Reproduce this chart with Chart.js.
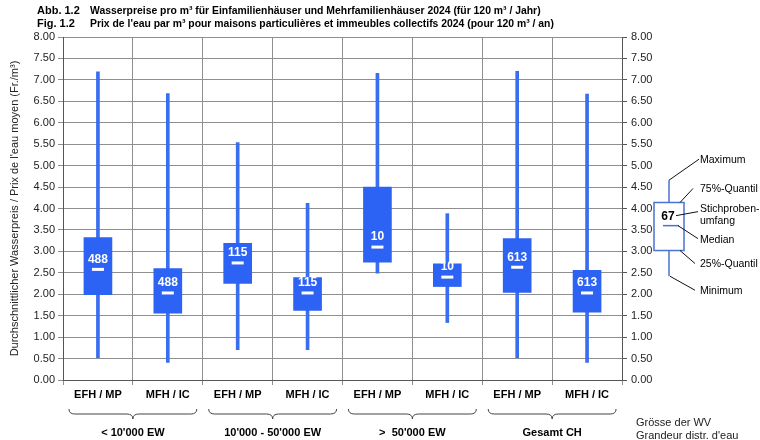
<!DOCTYPE html>
<html>
<head>
<meta charset="utf-8">
<script src="https://cdn.jsdelivr.net/npm/chart.js@4"></script>
<style>
  html, body { margin: 0; padding: 0; background: #fff; }
  canvas { display: block; }
</style>
</head>
<body>
<canvas id="chart" width="760" height="440"></canvas>
<script>
// categories and groups
const categories = ['EFH / MP', 'MFH / IC', 'EFH / MP', 'MFH / IC', 'EFH / MP', 'MFH / IC', 'EFH / MP', 'MFH / IC'];
const groups = ['< 10\'000 EW', '10\'000 - 50\'000 EW', '>  50\'000 EW', 'Gesamt CH'];

// box plot values (Fr./m³)
const minimum  = [0.52, 0.41, 0.71, 0.71, 2.49, 1.34, 0.52, 0.41];
const quartil1 = [1.99, 1.56, 2.25, 1.62, 2.75, 2.18, 2.04, 1.58];
const median   = [2.58, 2.03, 2.73, 2.03, 3.10, 2.40, 2.63, 2.03];
const quartil3 = [3.32, 2.60, 3.19, 2.39, 4.50, 2.71, 3.30, 2.56];
const maximum  = [7.19, 6.68, 5.54, 4.12, 7.15, 3.88, 7.20, 6.67];
const counts   = [488, 488, 115, 115, 10, 10, 613, 613];

// explanation box (drawn on the right axis)
const legendValues = { min: 2.42, q1: 3.02, median: 3.60, q3: 4.14, max: 4.66, n: 67 };
const legendLabels = ['Maximum', '75%-Quantil', ['Stichproben-', 'umfang'], 'Median', '25%-Quantil', 'Minimum'];

const yTicks = { min: 0, max: 8, step: 0.5 };

const FONT = '"Liberation Sans", Arial, sans-serif';
const NARROW = '"Liberation Sans Narrow", "Liberation Sans", Arial, sans-serif';
const BLUE = '#2d63f5';
const GRID = '#8f8f8f';

const overlay = {
  id: 'overlay',
  afterDatasetsDraw(chart) {
    const ctx = chart.ctx;
    const x = chart.scales.x, y = chart.scales.y;
    ctx.save();
    // medians and sample sizes
    categories.forEach((_, i) => {
      const cx = x.getPixelForValue(i);
      const my = y.getPixelForValue(median[i]);
      ctx.fillStyle = '#fff';
      ctx.fillRect(cx - 6, my - 1.5, 12, 3);
      ctx.font = 'bold 12px ' + FONT;
      ctx.textAlign = 'center';
      ctx.textBaseline = 'middle';
      ctx.fillText(String(counts[i]), cx, my - 10);
    });
    ctx.restore();
  },
  afterDraw(chart) {
    const ctx = chart.ctx;
    const x = chart.scales.x, y = chart.scales.y;
    const area = chart.chartArea;
    ctx.save();

    // title
    ctx.fillStyle = '#000';
    ctx.textAlign = 'left';
    ctx.textBaseline = 'alphabetic';
    ctx.font = 'bold 11px ' + FONT;
    ctx.fillText('Abb. 1.2', 37, 14);
    ctx.fillText('Fig. 1.2', 37, 27);
    ctx.font = 'bold 10.4px ' + FONT;
    ctx.fillText('Wasserpreise pro m³ für Einfamilienhäuser und Mehrfamilienhäuser 2024 (für 120 m³ / Jahr)', 90, 14);
    ctx.fillText('Prix de l\'eau par m³ pour maisons particulières et immeubles collectifs 2024 (pour 120 m³ / an)', 90, 27);

    // braces and group labels
    ctx.strokeStyle = '#444';
    ctx.lineWidth = 1;
    groups.forEach((g, k) => {
      const left = x.getPixelForValue(2 * k) - 29;
      const right = x.getPixelForValue(2 * k + 1) + 29;
      const mid = (left + right) / 2;
      const top = 409, base = 414, tip = 419;
      ctx.beginPath();
      ctx.moveTo(left, top);
      ctx.quadraticCurveTo(left, base, left + 6, base);
      ctx.lineTo(mid - 6, base);
      ctx.quadraticCurveTo(mid, base, mid, tip);
      ctx.quadraticCurveTo(mid, base, mid + 6, base);
      ctx.lineTo(right - 6, base);
      ctx.quadraticCurveTo(right, base, right, top);
      ctx.stroke();
      ctx.fillStyle = '#000';
      ctx.font = 'bold 11px ' + NARROW;
      ctx.textAlign = 'center';
      ctx.textBaseline = 'middle';
      ctx.fillText(g, mid, 433);
    });
    ctx.font = '11px ' + FONT;
    ctx.textAlign = 'left';
    ctx.fillStyle = '#222';
    ctx.fillText('Grösse der WV', 636, 423);
    ctx.fillText('Grandeur distr. d\'eau', 636, 436);

    // explanation box
    const bx = area.right + 47;
    const bw = 30;
    const py = v => y.getPixelForValue(v);
    const lv = legendValues;
    ctx.strokeStyle = '#4a73d4';
    ctx.lineWidth = 1.5;
    ctx.beginPath();
    ctx.moveTo(bx, py(lv.max)); ctx.lineTo(bx, py(lv.q3));
    ctx.moveTo(bx, py(lv.q1)); ctx.lineTo(bx, py(lv.min));
    ctx.stroke();
    ctx.strokeRect(bx - bw / 2, py(lv.q3), bw, py(lv.q1) - py(lv.q3));
    ctx.beginPath();
    ctx.moveTo(bx - 6, py(lv.median)); ctx.lineTo(bx + 10, py(lv.median));
    ctx.stroke();
    ctx.fillStyle = '#000';
    ctx.font = 'bold 12px ' + FONT;
    ctx.textAlign = 'center';
    ctx.textBaseline = 'middle';
    ctx.fillText(String(lv.n), bx - 1, py(lv.median) - 9);

    const tx = bx + 31;
    const links = [
      [bx, py(lv.max), tx - 1, py(lv.max) - 21],
      [bx + bw / 2 - 4, py(lv.q3), tx - 7, py(lv.q3) - 14],
      [bx + 7, py(lv.median) - 10, tx - 2, py(lv.median) - 14],
      [bx + 9, py(lv.median), tx - 2, py(lv.median) + 13],
      [bx + bw / 2 - 4, py(lv.q1), tx - 5, py(lv.q1) + 13],
      [bx + 1, py(lv.min), tx - 5, py(lv.min) + 14]
    ];
    ctx.strokeStyle = '#111';
    ctx.lineWidth = 1;
    ctx.font = '10.5px ' + FONT;
    ctx.textAlign = 'left';
    links.forEach((l, i) => {
      ctx.beginPath();
      ctx.moveTo(l[0], l[1]); ctx.lineTo(l[2], l[3]);
      ctx.stroke();
      const lab = legendLabels[i];
      if (Array.isArray(lab)) {
        ctx.fillText(lab[0], tx, l[3] - 3);
        ctx.fillText(lab[1], tx, l[3] + 9);
      } else {
        ctx.fillText(lab, tx, l[3] + 1);
      }
    });
    ctx.restore();
  }
};

const tickCb = v => Number(v).toFixed(2);

new Chart(document.getElementById('chart'), {
  type: 'bar',
  data: {
    labels: categories,
    datasets: [
      {
        label: 'Quartile',
        data: quartil1.map((q, i) => [q, quartil3[i]]),
        backgroundColor: BLUE,
        barThickness: 28,
        grouped: false
      },
      {
        label: 'Min/Max',
        data: minimum.map((m, i) => [m, maximum[i]]),
        backgroundColor: '#3a6ef0',
        barThickness: 3,
        grouped: false
      }
    ]
  },
  options: {
    responsive: false,
    animation: false,
    layout: { padding: { top: 37, left: 0, right: 0, bottom: 0 } },
    plugins: { legend: { display: false }, tooltip: { enabled: false } },
    scales: {
      x: {
        offset: true,
        grid: { color: GRID, offset: true, tickLength: 5 },
        border: { color: '#555' },
        ticks: { color: '#000', font: { family: NARROW, size: 11, weight: 'bold' }, padding: 3 },
        afterFit: s => { s.height = 60; }
      },
      y: {
        min: yTicks.min, max: yTicks.max,
        ticks: { stepSize: yTicks.step, callback: tickCb, color: '#222', font: { family: FONT, size: 11 }, padding: 3 },
        grid: { color: GRID, tickLength: 5 },
        border: { color: '#555' },
        title: { display: true, text: 'Durchschnittlicher Wasserpreis / Prix de l\'eau moyen (Fr./m³)', color: '#222', font: { family: FONT, size: 11 }, padding: { top: 8, bottom: 0 } },
        afterFit: s => { s.width = 63; }
      },
      y2: {
        position: 'right',
        min: yTicks.min, max: yTicks.max,
        ticks: { stepSize: yTicks.step, callback: tickCb, color: '#222', font: { family: FONT, size: 11 }, padding: 4 },
        grid: { drawOnChartArea: false, color: '#555', tickLength: 5 },
        border: { color: '#555' },
        afterFit: s => { s.width = 138; }
      }
    }
  },
  plugins: [overlay]
});
</script>
</body>
</html>
